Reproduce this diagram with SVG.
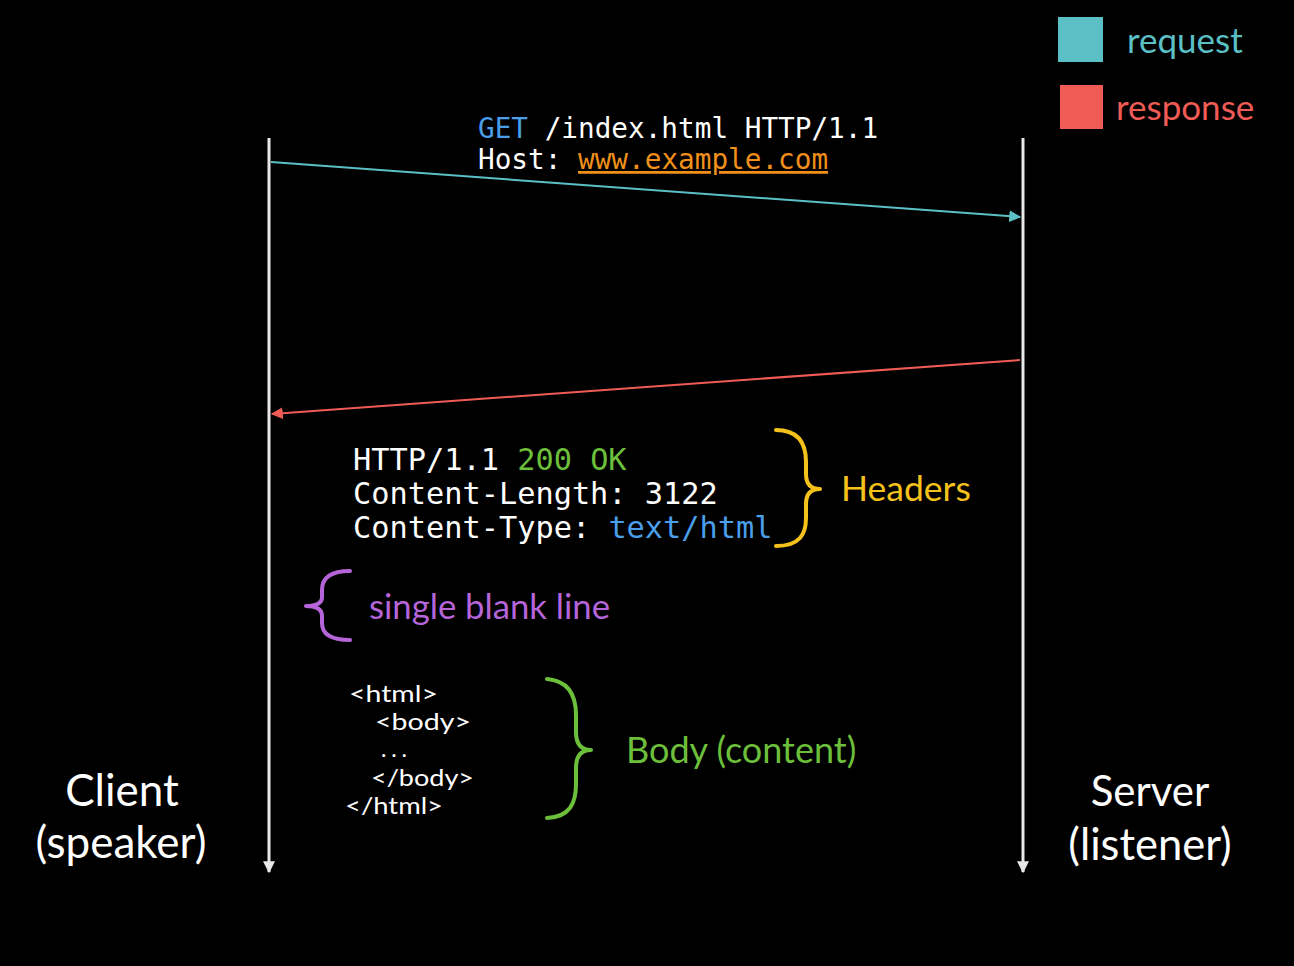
<svg xmlns="http://www.w3.org/2000/svg" width="1294" height="966" viewBox="0 0 1294 966">
<defs>
<style>
.mono{font-family:"DejaVu Sans Mono","Liberation Mono",monospace;fill:#fff}
.sans{font-family:"Lato","Open Sans","Liberation Sans",sans-serif}
.html{font-family:"Lato","Open Sans","Liberation Sans",sans-serif;font-size:23px;fill:#fff}
.life{stroke:#e8e8e8;stroke-width:3;fill:none}
.brace{fill:none;stroke-width:4;stroke-linecap:round;stroke-linejoin:round}
</style>
<marker id="mw" viewBox="0 0 10 10" refX="9" refY="5" markerWidth="4" markerHeight="4" orient="auto" markerUnits="strokeWidth"><path d="M0,0 L10,5 L0,10 z" fill="#e8e8e8"/></marker>
<marker id="mt" viewBox="0 0 10 10" refX="9" refY="5" markerWidth="6" markerHeight="6" orient="auto" markerUnits="strokeWidth"><path d="M0,0 L10,5 L0,10 z" fill="#5bbfc6"/></marker>
<marker id="mr" viewBox="0 0 10 10" refX="9" refY="5" markerWidth="6" markerHeight="6" orient="auto" markerUnits="strokeWidth"><path d="M0,0 L10,5 L0,10 z" fill="#ef5b55"/></marker>
</defs>
<rect width="1294" height="966" fill="#000"/>

<g id="legend">
<rect x="1058" y="17" width="45" height="45" fill="#5bbfc6"/>
<text x="1127" y="53" class="sans" font-size="35" fill="#5bbfc6">request</text>
<rect x="1060" y="85" width="43" height="44" fill="#ef5b55"/>
<text x="1116" y="120" class="sans" font-size="35" fill="#ef5b55">response</text>
</g>

<g id="client">
<line x1="269" y1="138" x2="269" y2="872" class="life" marker-end="url(#mw)"/>
<text x="122" y="806" class="sans" font-size="44" fill="#fff" text-anchor="middle">Client</text>
<text x="121" y="858" class="sans" font-size="44" fill="#fff" text-anchor="middle">(speaker)</text>
</g>

<g id="server">
<line x1="1023" y1="138" x2="1023" y2="872" class="life" marker-end="url(#mw)"/>
<text x="1150" y="806" class="sans" font-size="42" fill="#fff" text-anchor="middle">Server</text>
<text x="1150" y="860" class="sans" font-size="43.5" fill="#fff" text-anchor="middle">(listener)</text>
</g>

<g id="connectors">
<line x1="271" y1="162" x2="1020" y2="217" stroke="#5bbfc6" stroke-width="2" marker-end="url(#mt)"/>
<line x1="1020" y1="360" x2="272" y2="414" stroke="#ef5b55" stroke-width="2" marker-end="url(#mr)"/>
</g>

<g id="request-text">
<text x="478" y="138" class="mono" font-size="27.7"><tspan fill="#4a9eea">GET</tspan> /index.html HTTP/1.1</text>
<text x="478" y="169" class="mono" font-size="27.7">Host: <tspan fill="#f0901a" text-decoration="underline">www.example.com</tspan></text>
</g>

<g id="response-headers">
<text x="353" y="470" class="mono" font-size="30.3">HTTP/1.1 <tspan fill="#6cbf3a">200 OK</tspan></text>
<text x="353" y="504" class="mono" font-size="30.3">Content-Length: 3122</text>
<text x="353" y="538" class="mono" font-size="30.3">Content-Type: <tspan fill="#4a9eea">text/html</tspan></text>
<path class="brace" stroke="#f5c21b" d="M776,430 C800,430 806,445 806,462 L806,474 C806,484 811,489 820,489 C811,489 806,494 806,504 L806,518 C806,534 800,546 776,546"/>
<text x="841" y="501" class="sans" font-size="35.5" fill="#f5c21b">Headers</text>
</g>

<g id="blank-line">
<path class="brace" stroke="#b565d9" d="M350,571 C330,571 322,578 322,590 L322,597 C322,603 316,606 306,606 C316,606 322,609 322,616 L322,623 C322,634 330,640 350,640"/>
<text x="369" y="619" class="sans" font-size="34.7" fill="#b565d9">single blank line</text>
</g>

<g id="body">
<text x="349" y="702" class="html" textLength="89" lengthAdjust="spacingAndGlyphs">&lt;html&gt;</text>
<text x="375" y="730" class="html" textLength="96" lengthAdjust="spacingAndGlyphs">&lt;body&gt;</text>
<text x="381" y="757" class="html" textLength="26" lengthAdjust="spacing">...</text>
<text x="371" y="786" class="html" textLength="103" lengthAdjust="spacingAndGlyphs">&lt;/body&gt;</text>
<text x="345" y="814" class="html" textLength="98" lengthAdjust="spacingAndGlyphs">&lt;/html&gt;</text>
<path class="brace" stroke="#6cbf3a" d="M547,679 C570,681 576,697 576,715 L576,732 C576,744 581,750 591,750 C581,750 576,756 576,768 L576,784 C576,803 570,817 547,818"/>
<text x="626" y="763" class="sans" font-size="36" fill="#6cbf3a">Body (content)</text>
</g>
</svg>
